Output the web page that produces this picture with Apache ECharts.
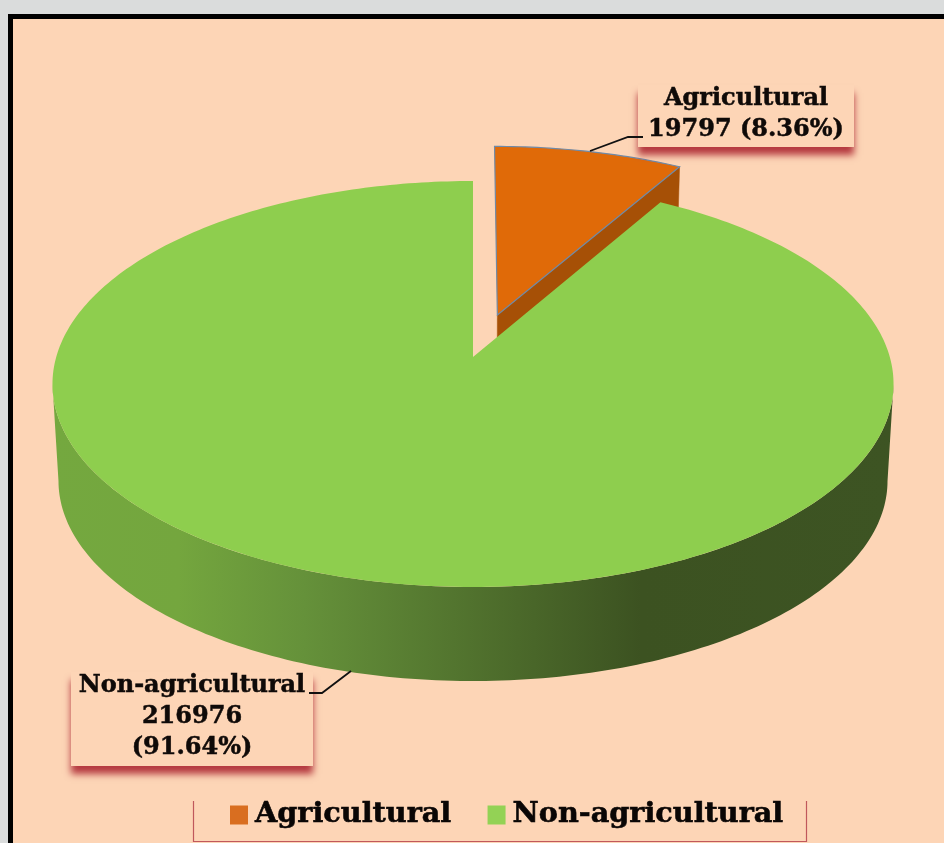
<!DOCTYPE html>
<html><head><meta charset="utf-8">
<style>html,body{margin:0;padding:0;background:#dadcdc}#c{width:944px;height:843px}</style>
<script src="https://cdn.jsdelivr.net/npm/echarts@6/dist/echarts.min.js"></script>
</head><body><div id="c"></div>
<script>
var categories = ['Agricultural', 'Non-agricultural'];
var seriesValues = [19797, 216976];
var sliceColors = ['#e06a08', '#8ece4e'];
var legendColors = ['#d96e20', '#93d255'];

var total = seriesValues[0] + seriesValues[1];
var pct = function (v) { return (v / total * 100).toFixed(2) + '%'; };
var splitDeg = seriesValues[0] / total * 360;

// perspective disc projection
var P = { cx: 473, cy: 357, a: 416.8, b: 199.4, k: -0.133, dy: 97.3, s: 0.9857 };
function proj(X, Y, low) {
  var w = 1 + P.k * Y, sc = low ? P.s : 1;
  return [P.cx + sc * P.a * X / w, P.cy + (low ? P.dy : 0) + sc * P.b * Y / w];
}
function rim(deg, ox, oy, low, r) {
  var t = deg * Math.PI / 180, R = r || 1;
  return proj(ox + R * Math.sin(t), oy - R * Math.cos(t), low);
}
function arc(from, to, ox, oy, low, r) {
  var pts = [], n = Math.max(2, Math.ceil(Math.abs(to - from)));
  for (var i = 0; i <= n; i++) pts.push(rim(from + (to - from) * i / n, ox, oy, low, r));
  return pts;
}
function poly(points, style, z2) {
  return { type: 'polygon', shape: { points: points }, style: style, z2: z2 || 0, silent: true };
}
function labelBox(x, y, w, h, lines, lineY, font, leader, z) {
  var kids = [{
    type: 'rect', shape: { x: x, y: y, width: w, height: h },
    style: { fill: '#fdd5b6', shadowBlur: 7, shadowColor: '#b5393f', shadowOffsetY: 8 }, z2: z
  }];
  lines.forEach(function (t, i) {
    kids.push({ type: 'text', x: x + w / 2, y: lineY[i], z2: z + 1,
      style: { text: t, fill: '#0f0a08', stroke: '#0f0a08', lineWidth: 0.5, font: font, align: 'center', verticalAlign: 'middle' } });
  });
  kids.push({ type: 'polyline', shape: { points: leader }, z2: z + 2,
    style: { stroke: '#111', lineWidth: 1.8, fill: null } });
  return kids;
}
var labelFont = 'bold 24px "DejaVu Serif"';

var renderAgri = function (params, api) {
  var deg = api.value(0) / total * 360;
  var bis = 15.5 * Math.PI / 180, d = 0.225, r = 1.012;
  var ox = d * Math.sin(bis), oy = -d * Math.cos(bis);
  var apex = proj(ox, oy, false), apexLow = proj(ox, oy, true);
  var tip = rim(deg, ox, oy, false, r), tipLow = rim(deg, ox, oy, true, r);
  var kids = [
    poly([apex, tip, tipLow, apexLow], { fill: '#a65006', stroke: '#a65006', lineWidth: 0.5 }),
    poly([apex].concat(arc(0, deg, ox, oy, false, r)), { fill: sliceColors[0], stroke: '#6f8aa8', lineWidth: 1.2 }, 1)
  ];
  return { type: 'group', children: kids.concat(
    labelBox(638, 85, 216, 62, [categories[0], api.value(0) + ' (' + pct(api.value(0)) + ')'], [99, 130], labelFont,
      [[590, 151], [628, 137], [643, 137]], 5)) };
};
var renderNon = function (params, api) {
  var start = splitDeg;
  var t0 = Math.acos(P.k) * 180 / Math.PI;
  var wallGrad = new echarts.graphic.LinearGradient(52, 0, 893, 0, [
    { offset: 0, color: '#74a83f' }, { offset: 0.15, color: '#74a63e' }, { offset: 0.3, color: '#65913a' },
    { offset: 0.7, color: '#3c5221' }, { offset: 1, color: '#3d5423' }], true);
  var wall = arc(t0, 360 - t0, 0, 0, false).concat(arc(360 - t0, t0, 0, 0, true));
  var topFace = [proj(0, 0, false)].concat(arc(start, 360, 0, 0, false));
  var v = api.value(0);
  return { type: 'group', children: [
    poly(wall, { fill: wallGrad }),
    poly(topFace, { fill: sliceColors[1] }, 1)
  ].concat(labelBox(71, 672, 242, 94, [categories[1], String(v), '(' + pct(v) + ')'], [686, 717, 748], labelFont,
      [[351, 671], [322, 693], [309, 693]], 5)) };
};

var chart = echarts.init(document.getElementById('c'), null, { renderer: 'canvas' });
chart.setOption({
  animation: false,
  backgroundColor: '#dadcdc',
  graphic: { elements: [
    { type: 'rect', z: 0, silent: true, shape: { x: 8, y: 14, width: 960, height: 860 }, style: { fill: '#000' } },
    { type: 'rect', z: 1, silent: true, shape: { x: 13, y: 19, width: 960, height: 860 }, style: { fill: '#fdd5b6' } },
    { type: 'polyline', z: 1, silent: true, shape: { points: [[193.5, 801], [193.5, 841.5], [806.5, 841.5], [806.5, 801]] },
      style: { fill: null, stroke: '#c0585c', lineWidth: 1.2 } }
  ] },
  legend: {
    data: categories,
    left: 230, top: 797, padding: 0, itemWidth: 18, itemHeight: 19, itemGap: 36,
    icon: 'rect', selectedMode: false,
    textStyle: { fontFamily: 'DejaVu Serif', fontWeight: 'bold', fontSize: 28.7, color: '#0a0605', padding: [0, 0, 0, 2], lineHeight: 36,
      textBorderColor: '#0a0605', textBorderWidth: 0.6 }
  },
  series: [
    { type: 'custom', name: categories[0], coordinateSystem: 'none', renderItem: renderAgri,
      data: [[seriesValues[0]]], itemStyle: { color: legendColors[0] }, silent: true, clip: false },
    { type: 'custom', name: categories[1], coordinateSystem: 'none', renderItem: renderNon,
      data: [[seriesValues[1]]], itemStyle: { color: legendColors[1] }, silent: true, clip: false }
  ]
});
</script></body></html>
